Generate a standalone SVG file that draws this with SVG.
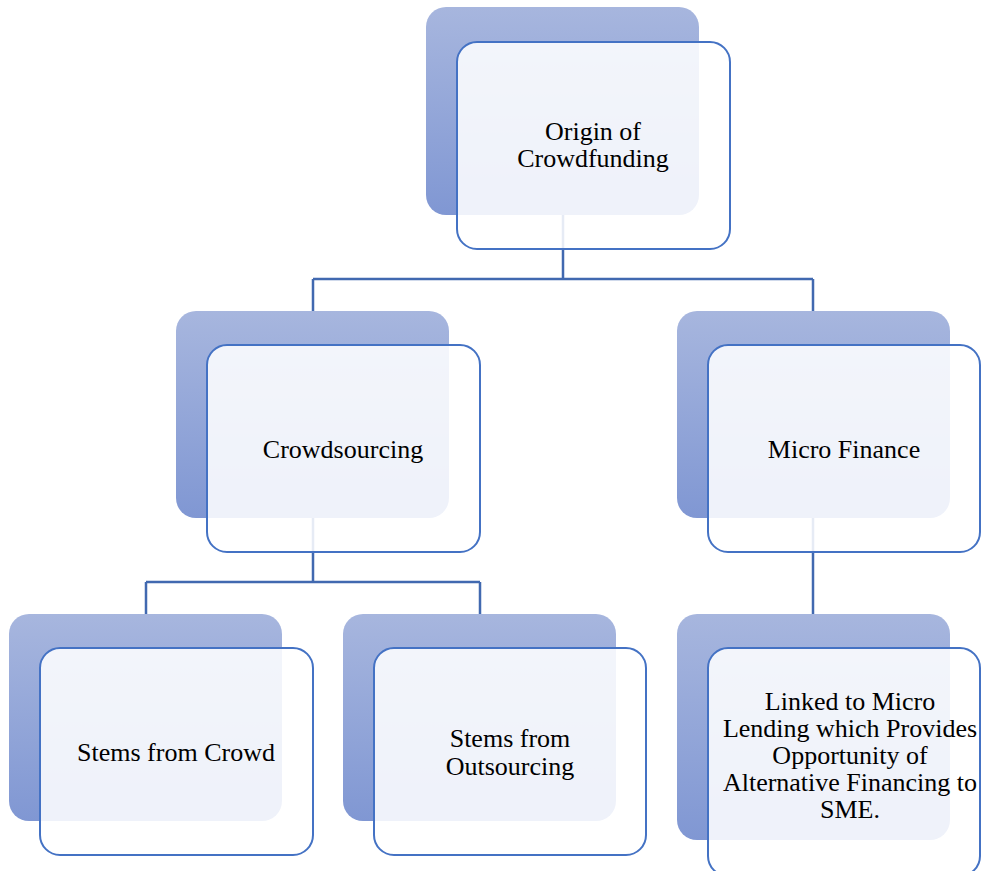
<svg xmlns="http://www.w3.org/2000/svg" width="988" height="871" viewBox="0 0 988 871">
<defs>
<linearGradient id="g" x1="0" y1="0" x2="0" y2="1">
<stop offset="0" stop-color="#a7b6de"/>
<stop offset="1" stop-color="#8097d3"/>
</linearGradient>
<style>
.back{fill:url(#g);}
.front{fill:#ffffff;fill-opacity:0.87;stroke:#4472c4;stroke-width:2;}
.conn{fill:none;stroke:#4169b0;stroke-width:2.5;}
.t{font-size:26px;fill:#000;text-anchor:middle;}
</style>
</defs>
<rect width="988" height="871" fill="#ffffff"/>
<g id="connectors">
<path class="conn" d="M563,214 V279 M313,279 H813 M313,279 V311 M813,279 V311"/>
<path class="conn" d="M313,517 V582 M146,582 H480 M146,582 V614 M480,582 V614"/>
<path class="conn" d="M813,517 V614"/>
</g>
<g font-family="Liberation Serif, DejaVu Serif, serif">
<g id="origin">
<rect class="back" x="426" y="7" width="273" height="208" rx="20"/>
<rect class="front" x="457" y="42" width="273" height="207" rx="20"/>
<text class="t" x="593" y="140">Origin of</text>
<text class="t" x="593" y="167">Crowdfunding</text>
</g>
<g id="crowdsourcing">
<rect class="back" x="176" y="311" width="273" height="207" rx="20"/>
<rect class="front" x="207" y="345" width="273" height="207" rx="20"/>
<text class="t" x="343" y="458">Crowdsourcing</text>
</g>
<g id="microfinance">
<rect class="back" x="677" y="311" width="273" height="207" rx="20"/>
<rect class="front" x="708" y="345" width="272" height="207" rx="20"/>
<text class="t" x="844" y="458">Micro Finance</text>
</g>
<g id="crowd">
<rect class="back" x="9" y="614" width="273" height="207" rx="20"/>
<rect class="front" x="40" y="648" width="273" height="207" rx="20"/>
<text class="t" x="176" y="761">Stems from Crowd</text>
</g>
<g id="outsourcing">
<rect class="back" x="343" y="614" width="273" height="207" rx="20"/>
<rect class="front" x="374" y="648" width="272" height="207" rx="20"/>
<text class="t" x="510" y="747">Stems from</text>
<text class="t" x="510" y="775">Outsourcing</text>
</g>
<g id="lending">
<rect class="back" x="677" y="614" width="273" height="226" rx="20"/>
<rect class="front" x="708" y="648" width="272" height="228" rx="20"/>
<text class="t" x="850" y="710">Linked to Micro</text>
<text class="t" x="850" y="737">Lending which Provides</text>
<text class="t" x="850" y="764">Opportunity of</text>
<text class="t" x="850" y="791">Alternative Financing to</text>
<text class="t" x="850" y="818">SME.</text>
</g>
</g>
</svg>
